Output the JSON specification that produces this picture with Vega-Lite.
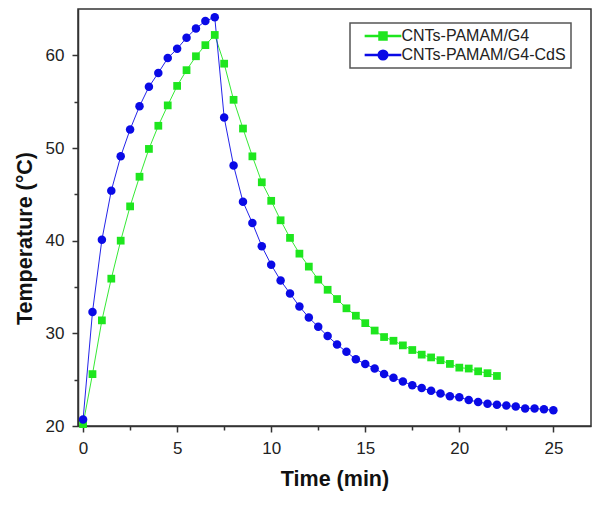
{
  "$schema": "https://vega.github.io/schema/vega-lite/v6.json",
  "autosize": {"type": "none"},
  "padding": {"left": 78, "top": 9, "right": 9, "bottom": 79},
  "width": 513,
  "height": 417,
  "background": "white",
  "config": {
    "font": "Liberation Sans",
    "view": {"stroke": "#333", "strokeWidth": 1.5},
    "axis": {
      "grid": false,
      "domainColor": "#333",
      "domainWidth": 1.5,
      "tickColor": "#333",
      "tickWidth": 1.5,
      "labelFont": "Liberation Sans",
      "labelFontSize": 17,
      "labelColor": "#222",
      "titleFont": "Liberation Sans",
      "titleFontSize": 21.5,
      "titleFontWeight": "bold",
      "titleColor": "#111"
    }
  },
  "data": {
    "values": [
      {"series": "CNTs-PAMAM/G4", "t": 0, "T": 20.2},
      {"series": "CNTs-PAMAM/G4", "t": 0.5, "T": 25.6},
      {"series": "CNTs-PAMAM/G4", "t": 1, "T": 31.4},
      {"series": "CNTs-PAMAM/G4", "t": 1.5, "T": 35.9},
      {"series": "CNTs-PAMAM/G4", "t": 2, "T": 40.0},
      {"series": "CNTs-PAMAM/G4", "t": 2.5, "T": 43.7},
      {"series": "CNTs-PAMAM/G4", "t": 3, "T": 46.9},
      {"series": "CNTs-PAMAM/G4", "t": 3.5, "T": 49.9},
      {"series": "CNTs-PAMAM/G4", "t": 4, "T": 52.4},
      {"series": "CNTs-PAMAM/G4", "t": 4.5, "T": 54.6},
      {"series": "CNTs-PAMAM/G4", "t": 5, "T": 56.7},
      {"series": "CNTs-PAMAM/G4", "t": 5.5, "T": 58.4},
      {"series": "CNTs-PAMAM/G4", "t": 6, "T": 59.9},
      {"series": "CNTs-PAMAM/G4", "t": 6.5, "T": 61.1},
      {"series": "CNTs-PAMAM/G4", "t": 7, "T": 62.2},
      {"series": "CNTs-PAMAM/G4", "t": 7.5, "T": 59.1},
      {"series": "CNTs-PAMAM/G4", "t": 8, "T": 55.2},
      {"series": "CNTs-PAMAM/G4", "t": 8.5, "T": 52.1},
      {"series": "CNTs-PAMAM/G4", "t": 9, "T": 49.1},
      {"series": "CNTs-PAMAM/G4", "t": 9.5, "T": 46.3},
      {"series": "CNTs-PAMAM/G4", "t": 10, "T": 44.3},
      {"series": "CNTs-PAMAM/G4", "t": 10.5, "T": 42.2},
      {"series": "CNTs-PAMAM/G4", "t": 11, "T": 40.3},
      {"series": "CNTs-PAMAM/G4", "t": 11.5, "T": 38.6},
      {"series": "CNTs-PAMAM/G4", "t": 12, "T": 37.2},
      {"series": "CNTs-PAMAM/G4", "t": 12.5, "T": 35.8},
      {"series": "CNTs-PAMAM/G4", "t": 13, "T": 34.7},
      {"series": "CNTs-PAMAM/G4", "t": 13.5, "T": 33.7},
      {"series": "CNTs-PAMAM/G4", "t": 14, "T": 32.7},
      {"series": "CNTs-PAMAM/G4", "t": 14.5, "T": 31.9},
      {"series": "CNTs-PAMAM/G4", "t": 15, "T": 31.1},
      {"series": "CNTs-PAMAM/G4", "t": 15.5, "T": 30.3},
      {"series": "CNTs-PAMAM/G4", "t": 16, "T": 29.6},
      {"series": "CNTs-PAMAM/G4", "t": 16.5, "T": 29.2},
      {"series": "CNTs-PAMAM/G4", "t": 17, "T": 28.7},
      {"series": "CNTs-PAMAM/G4", "t": 17.5, "T": 28.2},
      {"series": "CNTs-PAMAM/G4", "t": 18, "T": 27.7},
      {"series": "CNTs-PAMAM/G4", "t": 18.5, "T": 27.4},
      {"series": "CNTs-PAMAM/G4", "t": 19, "T": 27.1},
      {"series": "CNTs-PAMAM/G4", "t": 19.5, "T": 26.7},
      {"series": "CNTs-PAMAM/G4", "t": 20, "T": 26.3},
      {"series": "CNTs-PAMAM/G4", "t": 20.5, "T": 26.2},
      {"series": "CNTs-PAMAM/G4", "t": 21, "T": 25.9},
      {"series": "CNTs-PAMAM/G4", "t": 21.5, "T": 25.7},
      {"series": "CNTs-PAMAM/G4", "t": 22, "T": 25.4},
      {"series": "CNTs-PAMAM/G4-CdS", "t": 0, "T": 20.7},
      {"series": "CNTs-PAMAM/G4-CdS", "t": 0.5, "T": 32.3},
      {"series": "CNTs-PAMAM/G4-CdS", "t": 1, "T": 40.1},
      {"series": "CNTs-PAMAM/G4-CdS", "t": 1.5, "T": 45.4},
      {"series": "CNTs-PAMAM/G4-CdS", "t": 2, "T": 49.1},
      {"series": "CNTs-PAMAM/G4-CdS", "t": 2.5, "T": 52.0},
      {"series": "CNTs-PAMAM/G4-CdS", "t": 3, "T": 54.5},
      {"series": "CNTs-PAMAM/G4-CdS", "t": 3.5, "T": 56.6},
      {"series": "CNTs-PAMAM/G4-CdS", "t": 4, "T": 58.1},
      {"series": "CNTs-PAMAM/G4-CdS", "t": 4.5, "T": 59.7},
      {"series": "CNTs-PAMAM/G4-CdS", "t": 5, "T": 60.7},
      {"series": "CNTs-PAMAM/G4-CdS", "t": 5.5, "T": 61.9},
      {"series": "CNTs-PAMAM/G4-CdS", "t": 6, "T": 62.9},
      {"series": "CNTs-PAMAM/G4-CdS", "t": 6.5, "T": 63.7},
      {"series": "CNTs-PAMAM/G4-CdS", "t": 7, "T": 64.1},
      {"series": "CNTs-PAMAM/G4-CdS", "t": 7.5, "T": 53.3},
      {"series": "CNTs-PAMAM/G4-CdS", "t": 8, "T": 48.1},
      {"series": "CNTs-PAMAM/G4-CdS", "t": 8.5, "T": 44.2},
      {"series": "CNTs-PAMAM/G4-CdS", "t": 9, "T": 41.9},
      {"series": "CNTs-PAMAM/G4-CdS", "t": 9.5, "T": 39.4},
      {"series": "CNTs-PAMAM/G4-CdS", "t": 10, "T": 37.4},
      {"series": "CNTs-PAMAM/G4-CdS", "t": 10.5, "T": 35.7},
      {"series": "CNTs-PAMAM/G4-CdS", "t": 11, "T": 34.3},
      {"series": "CNTs-PAMAM/G4-CdS", "t": 11.5, "T": 32.9},
      {"series": "CNTs-PAMAM/G4-CdS", "t": 12, "T": 31.7},
      {"series": "CNTs-PAMAM/G4-CdS", "t": 12.5, "T": 30.7},
      {"series": "CNTs-PAMAM/G4-CdS", "t": 13, "T": 29.7},
      {"series": "CNTs-PAMAM/G4-CdS", "t": 13.5, "T": 28.8},
      {"series": "CNTs-PAMAM/G4-CdS", "t": 14, "T": 28.0},
      {"series": "CNTs-PAMAM/G4-CdS", "t": 14.5, "T": 27.2},
      {"series": "CNTs-PAMAM/G4-CdS", "t": 15, "T": 26.7},
      {"series": "CNTs-PAMAM/G4-CdS", "t": 15.5, "T": 26.2},
      {"series": "CNTs-PAMAM/G4-CdS", "t": 16, "T": 25.6},
      {"series": "CNTs-PAMAM/G4-CdS", "t": 16.5, "T": 25.2},
      {"series": "CNTs-PAMAM/G4-CdS", "t": 17, "T": 24.8},
      {"series": "CNTs-PAMAM/G4-CdS", "t": 17.5, "T": 24.4},
      {"series": "CNTs-PAMAM/G4-CdS", "t": 18, "T": 24.1},
      {"series": "CNTs-PAMAM/G4-CdS", "t": 18.5, "T": 23.8},
      {"series": "CNTs-PAMAM/G4-CdS", "t": 19, "T": 23.5},
      {"series": "CNTs-PAMAM/G4-CdS", "t": 19.5, "T": 23.2},
      {"series": "CNTs-PAMAM/G4-CdS", "t": 20, "T": 23.1},
      {"series": "CNTs-PAMAM/G4-CdS", "t": 20.5, "T": 22.8},
      {"series": "CNTs-PAMAM/G4-CdS", "t": 21, "T": 22.6},
      {"series": "CNTs-PAMAM/G4-CdS", "t": 21.5, "T": 22.4},
      {"series": "CNTs-PAMAM/G4-CdS", "t": 22, "T": 22.3},
      {"series": "CNTs-PAMAM/G4-CdS", "t": 22.5, "T": 22.2},
      {"series": "CNTs-PAMAM/G4-CdS", "t": 23, "T": 22.1},
      {"series": "CNTs-PAMAM/G4-CdS", "t": 23.5, "T": 21.9},
      {"series": "CNTs-PAMAM/G4-CdS", "t": 24, "T": 21.9},
      {"series": "CNTs-PAMAM/G4-CdS", "t": 24.5, "T": 21.8},
      {"series": "CNTs-PAMAM/G4-CdS", "t": 25, "T": 21.7}
    ]
  },
  "encoding": {
    "x": {
      "field": "t",
      "type": "quantitative",
      "scale": {"domain": [-0.27, 27], "nice": false, "zero": false},
      "axis": {
        "title": "Time (min)",
        "values": [0, 2.5, 5, 7.5, 10, 12.5, 15, 17.5, 20, 22.5, 25],
        "labelExpr": "datum.value % 5 === 0 ? datum.label : ''",
        "tickSize": {"condition": {"test": "datum.value % 5 === 0", "value": 6}, "value": 4},
        "labelPadding": 8,
        "titlePadding": 12
      }
    },
    "y": {
      "field": "T",
      "type": "quantitative",
      "scale": {"domain": [20, 65], "nice": false, "zero": false},
      "axis": {
        "title": "Temperature (°C)",
        "values": [20, 25, 30, 35, 40, 45, 50, 55, 60],
        "labelExpr": "datum.value % 10 === 0 ? datum.label : ''",
        "tickSize": {"condition": {"test": "datum.value % 10 === 0", "value": 6}, "value": 4},
        "labelPadding": 8,
        "titlePadding": 9,
        "titleY": 229
      }
    },
    "color": {
      "field": "series",
      "type": "nominal",
      "scale": {
        "domain": ["CNTs-PAMAM/G4", "CNTs-PAMAM/G4-CdS"],
        "range": ["#1ee61e", "#0a0ae6"]
      },
      "legend": {
        "title": null,
        "orient": "none",
        "legendX": 272,
        "legendY": 14,
        "padding": 5,
        "strokeColor": "#555",
        "fillColor": "white",
        "labelFont": "Liberation Sans",
        "labelFontSize": 16,
        "labelColor": "#222",
        "labelLimit": 300,
        "labelExpr": "datum.label + '\u00a0\u00a0\u00a0'",
        "symbolSize": 64,
        "symbolOffset": 20,
        "labelOffset": 10.5,
        "rowPadding": 3,
        "encode": {
          "legend": {
            "update": {"strokeWidth": {"value": 1.5}}
          },
          "symbols": {
            "update": {
              "shape": {"signal": "datum.value === 'CNTs-PAMAM/G4' ? 'M-4.4,-0.13H-1V0.13H-4.4Z M1,-0.13H4.4V0.13H1Z M-1,-1H1V1H-1Z' : 'M-4.4,-0.13H-1V0.13H-4.4Z M1,-0.13H4.4V0.13H1Z M-1.2,0A1.2,1.2 0 1,1 1.2,0A1.2,1.2 0 1,1 -1.2,0Z'"},
              "fill": {"signal": "scale('color', datum.value)"},
              "stroke": {"value": "transparent"},
              "opacity": {"value": 1}
            }
          }
        }
      }
    }
  },
  "layer": [
    {
      "mark": {"type": "line", "strokeWidth": 0.9}
    },
    {
      "transform": [{"filter": "datum.series === 'CNTs-PAMAM/G4'"}],
      "mark": {"type": "point", "shape": "square", "filled": true, "opacity": 1, "size": 60}
    },
    {
      "transform": [{"filter": "datum.series === 'CNTs-PAMAM/G4-CdS'"}],
      "mark": {"type": "point", "shape": "circle", "filled": true, "opacity": 1, "size": 72}
    }
  ]
}
